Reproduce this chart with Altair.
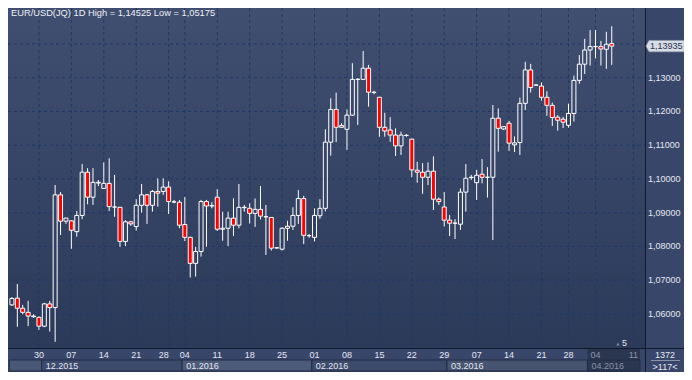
import altair as alt
import pandas as pd

# ---------------- data ----------------
bar_index = list(range(112))
open_ = [1.0627, 1.0647, 1.0617, 1.0605, 1.0592, 1.0590, 1.0564, 1.0630, 1.0619, 1.0953,
         1.0875, 1.0876, 1.0844, 1.0892, 1.1020, 1.0946, 1.0988, 1.0972, 1.0987, 1.0917,
         1.0916, 1.0815, 1.0873, 1.0859, 1.0922, 1.0953, 1.0922, 1.0963, 1.0963, 1.0976,
         1.0932, 1.0931, 1.0865, 1.0827, 1.0750, 1.0785, 1.0933, 1.0920, 1.0946, 1.0851,
         1.0854, 1.0884, 1.0863, 1.0915, 1.0913, 1.0898, 1.0910, 1.0888, 1.0886, 1.0796,
         1.0792, 1.0854, 1.0860, 1.0892, 1.0942, 1.0832, 1.0827, 1.0891, 1.0913, 1.1109,
         1.1206, 1.1153, 1.1147, 1.1189, 1.1295, 1.1295, 1.1328, 1.1256, 1.1242, 1.1153,
         1.1145, 1.1130, 1.1098, 1.1129, 1.1118, 1.1026, 1.1020, 1.1005, 1.1023, 1.0940,
         1.0917, 1.0878, 1.0869, 1.0866, 1.0961, 1.1004, 1.0989, 1.1014, 1.1005, 1.1005,
         1.1180, 1.1148, 1.1165, 1.1101, 1.1108, 1.1224, 1.1323, 1.1278, 1.1275, 1.1242,
         1.1218, 1.1183, 1.1177, 1.1159, 1.1194, 1.1292, 1.1340, 1.1382, 1.1392, 1.1392,
         1.1384, 1.1401]
high = [1.0650, 1.0689, 1.0627, 1.0639, 1.0599, 1.0593, 1.0633, 1.0639, 1.0982, 1.0961,
        1.0885, 1.0878, 1.0905, 1.1044, 1.1032, 1.1032, 1.0997, 1.1049, 1.1061, 1.1012,
        1.0917, 1.0878, 1.0876, 1.0940, 1.0985, 1.0956, 1.0967, 1.1002, 1.1002, 1.0993,
        1.0938, 1.0938, 1.0947, 1.0829, 1.0799, 1.0938, 1.0938, 1.0931, 1.0970, 1.0903,
        1.0903, 1.0943, 1.0985, 1.0923, 1.0928, 1.0942, 1.0979, 1.0923, 1.0887, 1.0798,
        1.0857, 1.0876, 1.0916, 1.0967, 1.0950, 1.0837, 1.0913, 1.0940, 1.1147, 1.1239,
        1.1256, 1.1165, 1.1206, 1.1343, 1.1299, 1.1379, 1.1338, 1.1261, 1.1243, 1.1196,
        1.1183, 1.1150, 1.1140, 1.1133, 1.1119, 1.1051, 1.1047, 1.1049, 1.1067, 1.0945,
        1.0961, 1.0893, 1.0881, 1.0972, 1.1044, 1.1012, 1.1027, 1.1059, 1.1035, 1.1219,
        1.1209, 1.1156, 1.1172, 1.1126, 1.1241, 1.1347, 1.1341, 1.1280, 1.1286, 1.1260,
        1.1226, 1.1189, 1.1184, 1.1223, 1.1306, 1.1367, 1.1415, 1.1441, 1.1441, 1.1409,
        1.1436, 1.14525]
low = [1.0624, 1.0562, 1.0599, 1.0564, 1.0589, 1.0553, 1.0561, 1.0548, 1.05175, 1.0834,
       1.0867, 1.0793, 1.0829, 1.0881, 1.0925, 1.0923, 1.0979, 1.0970, 1.0905, 1.0888,
       1.0799, 1.0801, 1.0861, 1.0847, 1.0900, 1.0867, 1.0903, 1.0918, 1.0953, 1.0896,
       1.0928, 1.0854, 1.0816, 1.0708, 1.0711, 1.0770, 1.0799, 1.0913, 1.0846, 1.0817,
       1.0801, 1.0831, 1.0854, 1.0903, 1.0868, 1.0858, 1.0880, 1.0775, 1.0788, 1.0793,
       1.0788, 1.0817, 1.0849, 1.0867, 1.0807, 1.0826, 1.0815, 1.0882, 1.0904, 1.1069,
       1.1109, 1.1152, 1.1086, 1.1187, 1.1160, 1.1293, 1.1214, 1.1251, 1.1125, 1.1125,
       1.1110, 1.1068, 1.1071, 1.1125, 1.1005, 1.0989, 1.0956, 1.0982, 1.0908, 1.0923,
       1.0859, 1.0831, 1.0822, 1.0849, 1.0903, 1.0997, 1.0938, 1.0987, 1.0945, 1.0819,
       1.1081, 1.1145, 1.1083, 1.1080, 1.1071, 1.1204, 1.1256, 1.1276, 1.1232, 1.1187,
       1.1157, 1.1143, 1.1151, 1.1152, 1.1170, 1.1282, 1.1311, 1.1336, 1.1357, 1.1336,
       1.1326, 1.1338]
close = [1.0646, 1.0617, 1.0605, 1.0594, 1.0594, 1.0564, 1.0630, 1.0619, 1.0953, 1.0875,
         1.0884, 1.0848, 1.0892, 1.1020, 1.0946, 1.0990, 1.0990, 1.0987, 1.0918, 1.0917,
         1.0815, 1.0873, 1.0867, 1.0922, 1.0953, 1.0922, 1.0963, 1.0958, 1.0976, 1.0933,
         1.0932, 1.0863, 1.0827, 1.0750, 1.0785, 1.0933, 1.0920, 1.0921, 1.0851, 1.0854,
         1.0884, 1.0863, 1.0916, 1.0916, 1.0898, 1.0910, 1.0890, 1.0888, 1.0795, 1.0796,
         1.0854, 1.0860, 1.0892, 1.0942, 1.0833, 1.0832, 1.0892, 1.0913, 1.1109, 1.1206,
         1.1153, 1.1158, 1.1189, 1.1295, 1.1295, 1.1328, 1.1257, 1.1257, 1.1153, 1.1142,
         1.1130, 1.1098, 1.1130, 1.1129, 1.1027, 1.1020, 1.1005, 1.1023, 1.0940, 1.0933,
         1.0878, 1.0869, 1.0869, 1.0961, 1.1002, 1.1005, 1.1011, 1.1005, 1.1005, 1.1180,
         1.1150, 1.1155, 1.1106, 1.1107, 1.1224, 1.1323, 1.1271, 1.1278, 1.1242, 1.1218,
         1.1182, 1.1174, 1.1168, 1.1194, 1.1292, 1.1340, 1.1382, 1.1392, 1.1392, 1.1385,
         1.1399, 1.13935]

day_labels = ["30", "07", "14", "21", "28", "04", "11", "18", "25", "01",
              "08", "15", "22", "29", "07", "14", "21", "28", "04", "11"]
day_pos = [5, 11, 17, 23, 28.1, 32, 38, 44, 50, 56, 62, 68, 74, 80, 86, 92, 98, 103, 108, 115]
week_grid = [5, 11, 17, 23, 29, 32, 38, 44, 50, 56, 62, 68, 74, 80, 86, 92, 98, 103, 108, 115]
month_labels = ["", "12.2015", "01.2016", "02.2016", "03.2016", "04.2016"]
month_start = [-0.5, 5.5, 31.5, 55.5, 80.5, 106.5]
month_end = [5.5, 31.5, 55.5, 80.5, 106.5, 116.23]
price_ticks = [1.06, 1.07, 1.08, 1.09, 1.10, 1.11, 1.12, 1.13]
price_grid = [1.06, 1.07, 1.08, 1.09, 1.10, 1.11, 1.12, 1.13, 1.14]
last_close = 1.13935
future_from = 106.5
title_text = "EUR/USD(JQ) 1D High = 1,14525 Low = 1,05175"
corner_top = "1372"
corner_bottom = ">117<"
marker_text = "5"

# ---------------- layout / style ----------------
PW, PH = 637, 340          # plot area
RIGHT, BOTTOM = 39, 24     # right price panel, bottom date band
W, H = PW + RIGHT, PH + BOTTOM
FONT = "Liberation Sans"
TXT = "#e4e8f0"
GRAY = "#8a93a8"
GRID = "#1d3867"
SEP = "#111a2c"
BG = "#38466a"

xs = alt.Scale(domain=[0.2, 116.23], nice=False, zero=False)
ys = alt.Scale(domain=[1.04993, 1.15064], nice=False, zero=False)

df = pd.DataFrame({"i": bar_index, "o": open_, "h": high, "l": low, "c": close})
df["top"] = df[["o", "c"]].max(axis=1)
df["bot"] = df[["o", "c"]].min(axis=1)

one = pd.DataFrame({"k": [0]})

X = lambda f: alt.X(f, scale=xs, axis=None)
Y = lambda f: alt.Y(f, scale=ys, axis=None)

grad = alt.LinearGradient(
    gradient="linear",
    stops=[alt.GradientStop(color="#404e70", offset=0),
           alt.GradientStop(color="#2c3a5a", offset=1)],
    x1=0, x2=0, y1=0, y2=1)

bg = alt.Chart(one).mark_rect(color=grad).encode(
    x=alt.value(0), x2=alt.value(PW), y=alt.value(0), y2=alt.value(PH))

hgrid = alt.Chart(pd.DataFrame({"p": price_grid})).mark_rule(
    color=GRID, strokeDash=[3, 3], strokeWidth=1).encode(
    y=Y("p:Q"), x=alt.value(0), x2=alt.value(PW))

vgrid = alt.Chart(pd.DataFrame({"g": week_grid})).mark_rule(
    color=GRID, strokeDash=[3, 3], strokeWidth=1).encode(
    x=X("g:Q"), y=alt.value(0), y2=alt.value(PH))

wick_up = alt.Chart(df).mark_rule(color="white", strokeWidth=1, clip=True).encode(
    x=X("i:Q"), y=Y("h:Q"), y2="top:Q")
wick_dn = alt.Chart(df).mark_rule(color="white", strokeWidth=1, clip=True).encode(
    x=X("i:Q"), y=Y("bot:Q"), y2="l:Q")
body = alt.Chart(df).mark_bar(size=4, stroke="white", strokeWidth=1,
                              fill="#ff0000", clip=True).encode(
    x=X("i:Q"), y=Y("o:Q"), y2="c:Q",
    fillOpacity=alt.condition("datum.c >= datum.o", alt.value(0), alt.value(1)))

ylab_df = pd.DataFrame({"p": price_ticks,
                        "t": [f"{p:.5f}".replace(".", ",") for p in price_ticks]})
ylabels = alt.Chart(ylab_df).mark_text(align="left", baseline="middle", fontSize=9,
                                        font=FONT, color=TXT).encode(
    x=alt.value(PW + 3), y=Y("p:Q"), text="t:N")

tag_df = pd.DataFrame({"p": [last_close], "t": [f"{last_close:.5f}".replace(".", ",")]})
tag = alt.Chart(tag_df).mark_point(
    shape="M-1,0L-0.84,-0.3L1,-0.3L1,0.3L-0.84,0.3Z", size=1444, filled=True,
    fill="#d8dce4", stroke="#9aa2b4", strokeWidth=0.6, opacity=1).encode(
    x=alt.value(PW + 20), y=Y("p:Q"))
tag_text = alt.Chart(tag_df).mark_text(align="left", baseline="middle", fontSize=9,
                                        font=FONT, color="#2a3550").encode(
    x=alt.value(PW + 5), y=Y("p:Q"), text="t:N")

future = alt.Chart(pd.DataFrame({"s": [future_from], "e": [month_end[-1]]})).mark_rect(
    fill="#2b3650").encode(x=X("s:Q"), x2="e:Q", y=alt.value(PH + 1), y2=alt.value(H))

mon_df = pd.DataFrame({"s": month_start, "e": month_end, "t": month_labels,
                       "m": list(range(len(month_labels)))})
months = alt.Chart(mon_df).mark_rect(stroke="#232d44", strokeWidth=1).encode(
    x=X("s:Q"), x2="e:Q", y=alt.value(PH + 12), y2=alt.value(H - 1),
    fill=alt.Fill("m:O", legend=None, scale=alt.Scale(
        domain=list(range(len(month_labels))),
        range=["#4a5878", "#3c4a6c", "#4d5b7b", "#3c4a6c", "#46546f", "#2b3650"])))
mon_text = alt.Chart(mon_df).mark_text(align="left", baseline="middle", dx=4,
                                        fontSize=9, font=FONT).encode(
    x=X("s:Q"), y=alt.value(PH + 18), text="t:N",
    color=alt.condition(f"datum.s >= {future_from}", alt.value(GRAY), alt.value(TXT)))

day_df = pd.DataFrame({"pos": day_pos, "t": day_labels})
days = alt.Chart(day_df).mark_text(align="center", baseline="middle", fontSize=9,
                                    font=FONT).encode(
    x=X("pos:Q"), y=alt.value(PH + 7), text="t:N",
    color=alt.condition(f"datum.pos >= {future_from}", alt.value(GRAY), alt.value(TXT)))

sep_h = alt.Chart(one).mark_rule(color=SEP, strokeWidth=1).encode(
    x=alt.value(0), x2=alt.value(W), y=alt.value(PH + 0.5))
sep_v = alt.Chart(one).mark_rule(color=SEP, strokeWidth=1).encode(
    x=alt.value(PW + 0.5), y=alt.value(0), y2=alt.value(H))

corner_df = pd.DataFrame({"t": [corner_top, corner_bottom], "r": [0, 1]})
corner1 = alt.Chart(pd.DataFrame({"t": [corner_top]})).mark_text(
    align="center", baseline="middle", fontSize=9, font=FONT, color=TXT).encode(
    x=alt.value(PW + 20), y=alt.value(PH + 6.5), text="t:N")
corner2 = alt.Chart(pd.DataFrame({"t": [corner_bottom]})).mark_text(
    align="center", baseline="middle", fontSize=9, font=FONT, color=TXT).encode(
    x=alt.value(PW + 20), y=alt.value(PH + 18.5), text="t:N")
corner_line = alt.Chart(one).mark_rule(color="#8a93a8", strokeWidth=1).encode(
    x=alt.value(PW + 6), x2=alt.value(PW + 35), y=alt.value(PH + 12.5))

title = alt.Chart(pd.DataFrame({"t": [title_text]})).mark_text(
    align="left", baseline="top", fontSize=9.3, font=FONT, color="#eef1f6").encode(
    x=alt.value(3), y=alt.value(1), text="t:N")

five = alt.Chart(pd.DataFrame({"t": [marker_text]})).mark_text(
    align="left", baseline="middle", fontSize=9, font=FONT, color=TXT).encode(
    x=alt.value(614), y=alt.value(PH - 5), text="t:N")
tri = alt.Chart(one).mark_point(shape="triangle-up", size=12, filled=True,
                                color="#7d879c", opacity=1).encode(
    x=alt.value(610), y=alt.value(PH - 4))

chart = alt.layer(
    bg, hgrid, vgrid, wick_up, wick_dn, body, five, tri,
    future, months, mon_text, days, sep_h, sep_v,
    ylabels, tag, tag_text, corner1, corner2, corner_line, title
).properties(
    width=PW, height=PH,
    padding={"left": 0, "top": 0, "right": RIGHT, "bottom": BOTTOM},
    autosize=alt.AutoSizeParams(type="none"),
    background=BG,
).configure_view(stroke=None)

chart.save("out.html", embed_options={"renderer": "svg", "actions": False})
